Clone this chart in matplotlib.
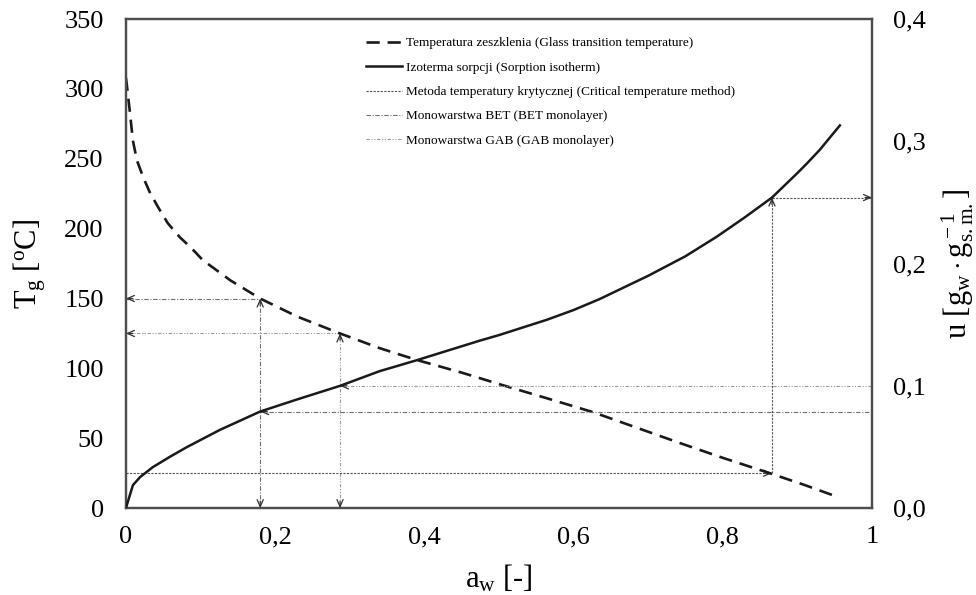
import matplotlib.pyplot as plt
from matplotlib.lines import Line2D
from matplotlib.ticker import FuncFormatter, MultipleLocator

plt.rcParams["font.family"] = ["Liberation Serif", "DejaVu Serif"]
plt.rcParams["mathtext.fontset"] = "custom"
plt.rcParams["mathtext.rm"] = "Liberation Serif"
plt.rcParams["mathtext.it"] = "Liberation Serif:italic"

T_MAX = 350
U_MAX = 0.4

# glass transition temperature, Tg [oC] vs a_w
tg_aw = [0.0, 0.001, 0.005, 0.0094, 0.0147, 0.023, 0.032, 0.043, 0.056, 0.072,
         0.088, 0.103, 0.14, 0.18, 0.23, 0.287, 0.34, 0.39, 0.45, 0.505,
         0.565, 0.626, 0.685, 0.743, 0.80, 0.863, 0.91, 0.954]
tg_temp = [308, 304, 285, 263, 249, 237, 226, 215.5, 204, 194,
           186, 177.5, 163, 150, 137, 125, 114.5, 106, 97, 88,
           78.5, 68.7, 57.5, 46.5, 36, 25, 16.5, 8]

# sorption isotherm, u [g_w / g_s.m.] vs a_w
iso_aw = [0.0, 0.0094, 0.019, 0.036, 0.059, 0.082, 0.126, 0.18, 0.23, 0.287,
          0.34, 0.39, 0.4745, 0.5, 0.564, 0.6, 0.635, 0.7, 0.725, 0.75,
          0.792, 0.83, 0.866, 0.9, 0.913, 0.93, 0.957]
iso_u = [0.0, 0.0188, 0.0254, 0.0335, 0.042, 0.050, 0.064, 0.079, 0.089, 0.1,
         0.112, 0.121, 0.137, 0.1415, 0.154, 0.162, 0.171, 0.19, 0.198, 0.206,
         0.222, 0.238, 0.254, 0.274, 0.282, 0.293, 0.313]

# read-off points (a_w, u, Tg)
crit_aw, crit_u, crit_tg = 0.866, 0.254, 25
bet_aw, bet_u, bet_tg = 0.18, 0.079, 150
gab_aw, gab_u, gab_tg = 0.287, 0.1, 125

legend_labels = [
    "Temperatura zeszklenia (Glass transition temperature)",
    "Izoterma sorpcji (Sorption isotherm)",
    "Metoda temperatury krytycznej (Critical temperature method)",
    "Monowarstwa BET (BET monolayer)",
    "Monowarstwa GAB (GAB monolayer)",
]

CRIT_STYLE = dict(color="#555555", lw=0.8, ls=(0, (2, 1.2)))
BET_STYLE = dict(color="#707070", lw=0.8, ls=(0, (4, 1.5, 1, 1.5)))
GAB_STYLE = dict(color="#9a9a9a", lw=0.8, ls=(0, (3, 1.5, 1, 1.5, 1, 1.5)))


def head(ax, x, y, dx, dy, color):
    # small solid arrowhead whose tip sits at (x, y)
    ax.annotate("", xy=(x, y), xytext=(-dx * 5, -dy * 5), textcoords="offset points",
                arrowprops=dict(arrowstyle="->,head_length=0.5,head_width=0.22",
                                lw=0.9, color=color, shrinkA=0, shrinkB=0))


fig = plt.figure(figsize=(9.76, 5.95), dpi=100)
ax = fig.add_subplot(111)
ax2 = ax.twinx()
fig.subplots_adjust(left=0.129, right=0.8934, bottom=0.146, top=0.968)

ax.set_xlim(0, 1)
ax.set_ylim(0, T_MAX)
ax2.set_ylim(0, U_MAX)

# guide lines: BET
ax.plot([0, bet_aw], [bet_tg, bet_tg], **BET_STYLE)
ax.plot([bet_aw, bet_aw], [0, bet_tg], **BET_STYLE)
ax2.plot([bet_aw, 1], [bet_u, bet_u], **BET_STYLE)
head(ax, 0, bet_tg, -1, 0, "#333333")
head(ax, bet_aw, bet_tg, 0, 1, "#333333")
head(ax, bet_aw, 0, 0, -1, "#333333")
head(ax2, bet_aw, bet_u, -1, 0, "#333333")

# guide lines: GAB
ax.plot([0, gab_aw], [gab_tg, gab_tg], **GAB_STYLE)
ax.plot([gab_aw, gab_aw], [0, gab_tg], **GAB_STYLE)
ax2.plot([gab_aw, 1], [gab_u, gab_u], **GAB_STYLE)
head(ax, 0, gab_tg, -1, 0, "#333333")
head(ax, gab_aw, gab_tg, 0, 1, "#333333")
head(ax, gab_aw, 0, 0, -1, "#333333")
head(ax2, gab_aw, gab_u, -1, 0, "#333333")

# guide lines: critical temperature method
ax.plot([0, crit_aw], [crit_tg, crit_tg], **CRIT_STYLE)
ax2.plot([crit_aw, crit_aw], [crit_tg * U_MAX / T_MAX, crit_u], **CRIT_STYLE)
ax2.plot([crit_aw, 1], [crit_u, crit_u], **CRIT_STYLE)
head(ax, crit_aw, crit_tg, 1, 0, "#333333")
head(ax2, crit_aw, crit_u, 0, 1, "#333333")
head(ax2, 1, crit_u, 1, 0, "#333333")

# main curves
ax.plot(tg_aw, tg_temp, color="#1a1a1a", lw=1.9, ls=(0, (5, 3)), zorder=5)
ax2.plot(iso_aw, iso_u, color="#1a1a1a", lw=1.8, zorder=5)

# axes, ticks
ax.xaxis.set_major_locator(MultipleLocator(0.2))
ax.yaxis.set_major_locator(MultipleLocator(50))
ax2.yaxis.set_major_locator(MultipleLocator(0.1))
ax.xaxis.set_major_formatter(FuncFormatter(lambda v, _: f"{v:g}".replace(".", ",")))
ax2.yaxis.set_major_formatter(FuncFormatter(lambda v, _: f"{v:.1f}".replace(".", ",")))
ax.tick_params(axis="x", length=0, labelsize=19, pad=13)
ax.tick_params(axis="y", length=0, labelsize=19, pad=16)
ax2.tick_params(axis="y", length=0, labelsize=19, pad=15)

for a in (ax, ax2):
    for sp in a.spines.values():
        sp.set_color("#4d4d4d")
        sp.set_linewidth(1.6)

ax.set_xlabel(r"a$_{\rm w}$ [-]", fontsize=22, labelpad=11)
ax.set_ylabel(r"T$_{\rm g}$ [$^{\rm o}$C]", fontsize=22, labelpad=12)
ax2.set_ylabel(r"u [g$_{\rm w}\cdot$g$_{\rm s.m.}^{\rm -1}$]", fontsize=22, labelpad=10)

handles = [
    Line2D([], [], color="#1a1a1a", lw=1.9, ls=(0, (5, 3))),
    Line2D([], [], color="#1a1a1a", lw=1.8),
    Line2D([], [], **CRIT_STYLE),
    Line2D([], [], **BET_STYLE),
    Line2D([], [], **GAB_STYLE),
]
ax2.legend(handles, legend_labels, loc="upper left", bbox_to_anchor=(0.322, 0.963),
           frameon=False, fontsize=9.5, handlelength=2.7, handletextpad=0.3,
           labelspacing=0.92, borderpad=0, borderaxespad=0)

fig.savefig("out.png", dpi=100)
